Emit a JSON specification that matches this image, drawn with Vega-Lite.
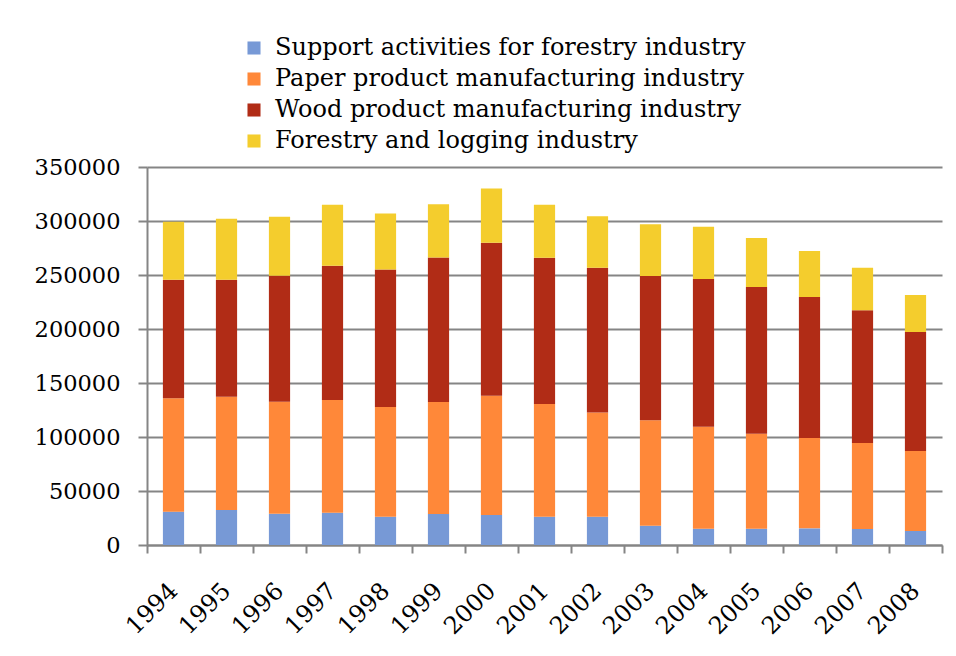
{
  "$schema": "https://vega.github.io/schema/vega-lite/v6.json",
  "width": 795,
  "height": 378,
  "autosize": {"type": "none"},
  "padding": {"left": 147, "top": 167, "right": 14, "bottom": 111},
  "background": "white",
  "config": {
    "font": "DejaVu Serif",
    "view": {"stroke": null},
    "axis": {"labelFont": "DejaVu Serif", "labelColor": "black", "domainColor": "#858585", "tickColor": "#858585", "gridColor": "#858585", "domainWidth": 2, "tickWidth": 2, "gridWidth": 2}
  },
  "data": {
    "values": [
      {"year": "1994", "industry": "Support activities for forestry industry", "value": 30900},
      {"year": "1994", "industry": "Paper product manufacturing industry", "value": 104900},
      {"year": "1994", "industry": "Wood product manufacturing industry", "value": 109900},
      {"year": "1994", "industry": "Forestry and logging industry", "value": 53700},
      {"year": "1995", "industry": "Support activities for forestry industry", "value": 32400},
      {"year": "1995", "industry": "Paper product manufacturing industry", "value": 104900},
      {"year": "1995", "industry": "Wood product manufacturing industry", "value": 108400},
      {"year": "1995", "industry": "Forestry and logging industry", "value": 56400},
      {"year": "1996", "industry": "Support activities for forestry industry", "value": 29000},
      {"year": "1996", "industry": "Paper product manufacturing industry", "value": 103700},
      {"year": "1996", "industry": "Wood product manufacturing industry", "value": 116600},
      {"year": "1996", "industry": "Forestry and logging industry", "value": 54700},
      {"year": "1997", "industry": "Support activities for forestry industry", "value": 29900},
      {"year": "1997", "industry": "Paper product manufacturing industry", "value": 104300},
      {"year": "1997", "industry": "Wood product manufacturing industry", "value": 124400},
      {"year": "1997", "industry": "Forestry and logging industry", "value": 56500},
      {"year": "1998", "industry": "Support activities for forestry industry", "value": 26200},
      {"year": "1998", "industry": "Paper product manufacturing industry", "value": 101600},
      {"year": "1998", "industry": "Wood product manufacturing industry", "value": 127400},
      {"year": "1998", "industry": "Forestry and logging industry", "value": 51800},
      {"year": "1999", "industry": "Support activities for forestry industry", "value": 28700},
      {"year": "1999", "industry": "Paper product manufacturing industry", "value": 103700},
      {"year": "1999", "industry": "Wood product manufacturing industry", "value": 133900},
      {"year": "1999", "industry": "Forestry and logging industry", "value": 49100},
      {"year": "2000", "industry": "Support activities for forestry industry", "value": 27800},
      {"year": "2000", "industry": "Paper product manufacturing industry", "value": 110500},
      {"year": "2000", "industry": "Wood product manufacturing industry", "value": 141600},
      {"year": "2000", "industry": "Forestry and logging industry", "value": 50300},
      {"year": "2001", "industry": "Support activities for forestry industry", "value": 26200},
      {"year": "2001", "industry": "Paper product manufacturing industry", "value": 104300},
      {"year": "2001", "industry": "Wood product manufacturing industry", "value": 135500},
      {"year": "2001", "industry": "Forestry and logging industry", "value": 49100},
      {"year": "2002", "industry": "Support activities for forestry industry", "value": 26200},
      {"year": "2002", "industry": "Paper product manufacturing industry", "value": 96600},
      {"year": "2002", "industry": "Wood product manufacturing industry", "value": 134000},
      {"year": "2002", "industry": "Forestry and logging industry", "value": 47500},
      {"year": "2003", "industry": "Support activities for forestry industry", "value": 17900},
      {"year": "2003", "industry": "Paper product manufacturing industry", "value": 97500},
      {"year": "2003", "industry": "Wood product manufacturing industry", "value": 133600},
      {"year": "2003", "industry": "Forestry and logging industry", "value": 47900},
      {"year": "2004", "industry": "Support activities for forestry industry", "value": 15100},
      {"year": "2004", "industry": "Paper product manufacturing industry", "value": 94500},
      {"year": "2004", "industry": "Wood product manufacturing industry", "value": 136700},
      {"year": "2004", "industry": "Forestry and logging industry", "value": 48400},
      {"year": "2005", "industry": "Support activities for forestry industry", "value": 15100},
      {"year": "2005", "industry": "Paper product manufacturing industry", "value": 88000},
      {"year": "2005", "industry": "Wood product manufacturing industry", "value": 135800},
      {"year": "2005", "industry": "Forestry and logging industry", "value": 45300},
      {"year": "2006", "industry": "Support activities for forestry industry", "value": 15400},
      {"year": "2006", "industry": "Paper product manufacturing industry", "value": 83700},
      {"year": "2006", "industry": "Wood product manufacturing industry", "value": 130500},
      {"year": "2006", "industry": "Forestry and logging industry", "value": 42600},
      {"year": "2007", "industry": "Support activities for forestry industry", "value": 14800},
      {"year": "2007", "industry": "Paper product manufacturing industry", "value": 79600},
      {"year": "2007", "industry": "Wood product manufacturing industry", "value": 122900},
      {"year": "2007", "industry": "Forestry and logging industry", "value": 39500},
      {"year": "2008", "industry": "Support activities for forestry industry", "value": 13000},
      {"year": "2008", "industry": "Paper product manufacturing industry", "value": 74000},
      {"year": "2008", "industry": "Wood product manufacturing industry", "value": 110200},
      {"year": "2008", "industry": "Forestry and logging industry", "value": 34300}
    ]
  },
  "transform": [
    {"calculate": "indexof(['Support activities for forestry industry', 'Paper product manufacturing industry', 'Wood product manufacturing industry', 'Forestry and logging industry'], datum.industry)", "as": "stackOrder"}
  ],
  "mark": {"type": "bar", "width": {"band": 0.4}},
  "encoding": {
    "x": {
      "field": "year", "type": "nominal", "title": null,
      "scale": {"paddingInner": 0, "paddingOuter": 0},
      "axis": {"labelAngle": -45, "labelAlign": "right", "labelBaseline": "middle", "labelFontSize": 24, "labelPadding": 34, "tickBand": "extent", "tickSize": 8}
    },
    "y": {
      "field": "value", "type": "quantitative", "title": null, "stack": "zero",
      "scale": {"domain": [0, 350000], "nice": false},
      "axis": {"values": [0, 50000, 100000, 150000, 200000, 250000, 300000, 350000], "format": "d", "labelFontSize": 22.5, "tickSize": 9, "labelPadding": 18, "grid": true}
    },
    "order": {"field": "stackOrder", "type": "quantitative", "sort": "ascending"},
    "color": {
      "field": "industry", "type": "nominal", "title": null,
      "sort": ["Support activities for forestry industry", "Paper product manufacturing industry", "Wood product manufacturing industry", "Forestry and logging industry"],
      "scale": {
        "domain": ["Support activities for forestry industry", "Paper product manufacturing industry", "Wood product manufacturing industry", "Forestry and logging industry"],
        "range": ["#7799D6", "#FF8839", "#B12C16", "#F4CD2D"]
      },
      "legend": {"orient": "none", "legendX": 95, "legendY": -131, "direction": "vertical", "symbolType": "square", "symbolSize": 170, "symbolStrokeWidth": 0, "symbolOpacity": 1, "labelFontSize": 24, "labelColor": "black", "labelOffset": 9, "rowPadding": 7, "labelLimit": 0, "padding": 0}
    }
  }
}
